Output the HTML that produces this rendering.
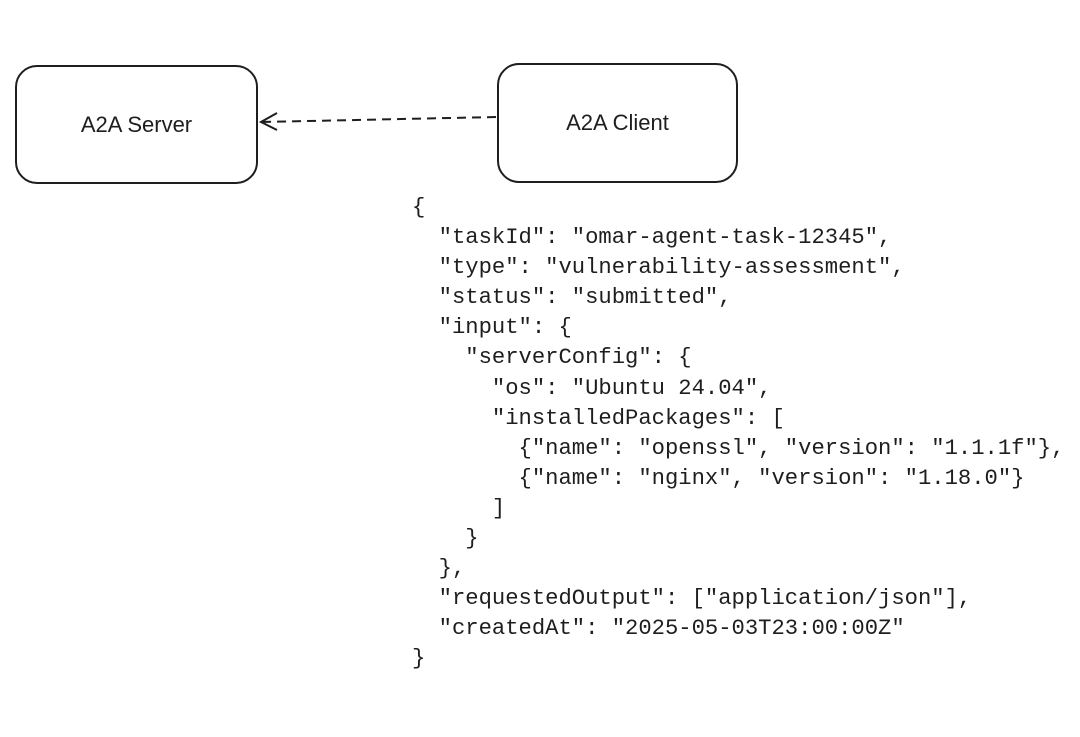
<!DOCTYPE html>
<html><head><meta charset="utf-8"><style>
body{margin:0;width:1080px;height:737px;background:#fff;position:relative;overflow:hidden}
.box{position:absolute;border:2px solid #1e1e1e;border-radius:22px;box-sizing:border-box;display:flex;align-items:center;justify-content:center;font-family:"Comic Sans MS","Liberation Sans",sans-serif;font-size:22px;color:#1e1e1e}
pre{position:absolute;left:412px;top:193px;margin:0;font-family:"Liberation Mono",monospace;font-size:22.2px;line-height:30.1px;color:#1e1e1e}
</style></head><body>
<div class="box" style="left:15px;top:65px;width:243px;height:119px">A2A Server</div>
<div class="box" style="left:497px;top:63px;width:241px;height:120px">A2A Client</div>
<svg width="1080" height="737" style="position:absolute;left:0;top:0">
<line x1="496" y1="117" x2="262" y2="122" stroke="#1e1e1e" stroke-width="2" stroke-dasharray="9,6"/>
<polyline points="277,113 261,122 277,130" fill="none" stroke="#1e1e1e" stroke-width="2"/>
</svg>
<pre>{
  "taskId": "omar-agent-task-12345",
  "type": "vulnerability-assessment",
  "status": "submitted",
  "input": {
    "serverConfig": {
      "os": "Ubuntu 24.04",
      "installedPackages": [
        {"name": "openssl", "version": "1.1.1f"},
        {"name": "nginx", "version": "1.18.0"}
      ]
    }
  },
  "requestedOutput": ["application/json"],
  "createdAt": "2025-05-03T23:00:00Z"
}</pre>
</body></html>
